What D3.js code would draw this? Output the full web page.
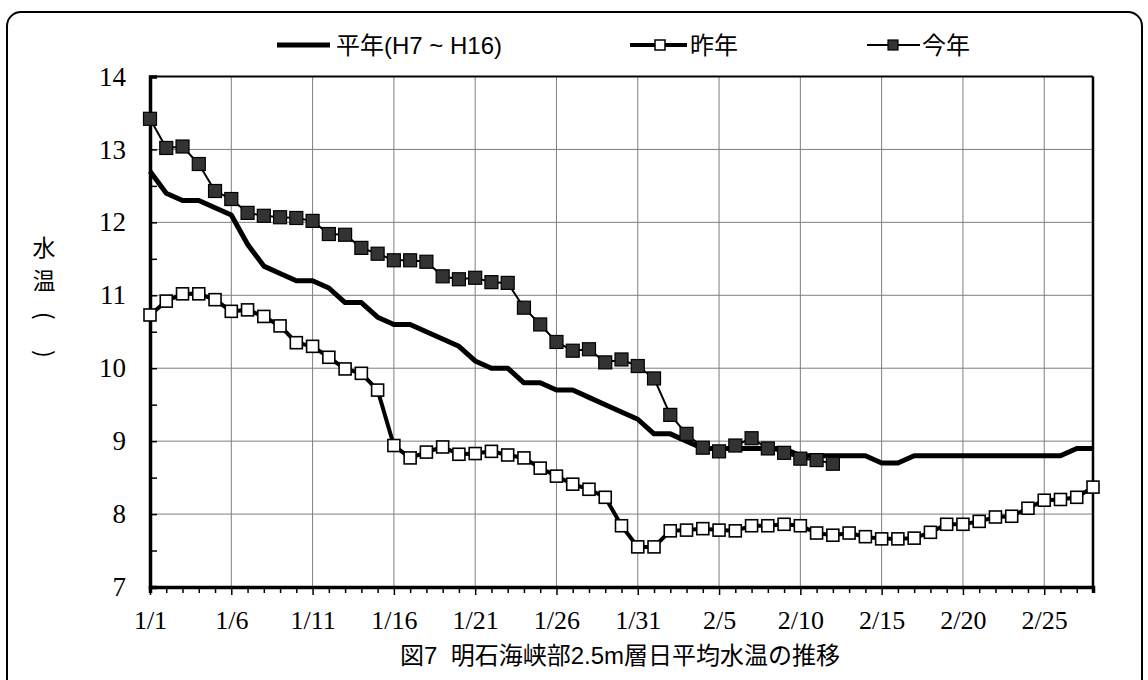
<!DOCTYPE html>
<html>
<head>
<meta charset="utf-8">
<script src="https://cdn.jsdelivr.net/npm/d3@7"></script>
<style>
  body { margin: 0; background: #fff; }
  svg { display: block; }
</style>
</head>
<body>
<svg id="chart" width="1148" height="680"></svg>
<script>
// day index 0 = 1/1 ... 58 = 2/28
const dayLabels = d3.range(59).map(i => i < 31 ? `1/${i + 1}` : `2/${i - 30}`);
const xTickDays = [0, 5, 10, 15, 20, 25, 30, 35, 40, 45, 50, 55];
const yTicks = [7, 8, 9, 10, 11, 12, 13, 14];

// 平年(H7 ~ H16)
const heinen = [12.7, 12.4, 12.3, 12.3, 12.2, 12.1, 11.7, 11.4, 11.3, 11.2,
  11.2, 11.1, 10.9, 10.9, 10.7, 10.6, 10.6, 10.5, 10.4, 10.3,
  10.1, 10.0, 10.0, 9.8, 9.8, 9.7, 9.7, 9.6, 9.5, 9.4,
  9.3, 9.1, 9.1, 9.0, 8.9, 8.9, 8.9, 8.9, 8.9, 8.9,
  8.8, 8.8, 8.8, 8.8, 8.8, 8.7, 8.7, 8.8, 8.8, 8.8,
  8.8, 8.8, 8.8, 8.8, 8.8, 8.8, 8.8, 8.9, 8.9];

// 昨年
const sakunen = [10.73, 10.92, 11.02, 11.02, 10.94, 10.78, 10.8, 10.71, 10.58, 10.35,
  10.3, 10.15, 9.99, 9.93, 9.7, 8.94, 8.77, 8.85, 8.92, 8.82,
  8.83, 8.86, 8.81, 8.77, 8.63, 8.52, 8.41, 8.34, 8.23, 7.84,
  7.55, 7.55, 7.77, 7.78, 7.8, 7.78, 7.77, 7.84, 7.84, 7.86,
  7.84, 7.74, 7.71, 7.74, 7.69, 7.66, 7.66, 7.67, 7.75, 7.86,
  7.86, 7.9, 7.96, 7.97, 8.08, 8.19, 8.2, 8.23, 8.37];

// 今年 (up to 2/12)
const konnen = [13.42, 13.02, 13.04, 12.8, 12.43, 12.32, 12.13, 12.09, 12.07, 12.06,
  12.02, 11.84, 11.83, 11.65, 11.57, 11.48, 11.48, 11.46, 11.26, 11.22,
  11.24, 11.18, 11.17, 10.83, 10.6, 10.36, 10.24, 10.26, 10.08, 10.12,
  10.03, 9.86, 9.36, 9.1, 8.91, 8.86, 8.94, 9.04, 8.9, 8.84,
  8.76, 8.74, 8.69];

const svg = d3.select('#chart');
const serif = '"Liberation Serif", "Times New Roman", serif';
const sans = '"Liberation Sans", Arial, "Noto Sans CJK JP", sans-serif';
const cjk = '"Noto Sans CJK JP", "Liberation Sans", sans-serif';

const plotL = 150, plotR = 1093, plotT = 76.5, plotB = 587;
const x = d3.scaleLinear().domain([0, 58]).range([plotL, plotR]);
const y = d3.scaleLinear().domain([7, 14]).range([plotB, plotT]);

// outer rounded frame (bottom runs off the picture)
svg.append('rect')
  .attr('x', 7).attr('y', 12)
  .attr('width', 1135).attr('height', 700)
  .attr('rx', 14)
  .attr('fill', 'none').attr('stroke', '#000').attr('stroke-width', 2);

// grid
svg.append('g').selectAll('line').data(yTicks.slice(1, -1)).join('line')
  .attr('x1', plotL).attr('x2', plotR)
  .attr('y1', d => y(d)).attr('y2', d => y(d))
  .attr('stroke', '#7f7f7f').attr('stroke-width', 1);
svg.append('g').selectAll('line').data(xTickDays.slice(1)).join('line')
  .attr('x1', d => x(d)).attr('x2', d => x(d))
  .attr('y1', plotT).attr('y2', plotB)
  .attr('stroke', '#7f7f7f').attr('stroke-width', 1);

// plot border: top/right
svg.append('line').attr('x1', plotL).attr('x2', plotR).attr('y1', plotT).attr('y2', plotT)
  .attr('stroke', '#000').attr('stroke-width', 2);
svg.append('line').attr('x1', plotR).attr('x2', plotR).attr('y1', plotT).attr('y2', plotB)
  .attr('stroke', '#000').attr('stroke-width', 2.5);

// y axis, ticks pointing inward, minor every 0.5
const yAxis = d3.axisLeft(y).tickValues(d3.range(7, 14.01, 0.5))
  .tickSize(-7).tickFormat(d => Number.isInteger(d) ? d : '');
const gy = svg.append('g').attr('transform', `translate(${plotL},0)`).call(yAxis);
gy.select('.domain').attr('stroke-width', 3.5);
gy.selectAll('.tick line').attr('stroke-width', 1.5);
gy.selectAll('.tick text')
  .attr('x', -24)
  .style('font-family', serif).style('font-size', '27px').attr('fill', '#000');

// x axis, a tick every day
const xAxis = d3.axisBottom(x).tickValues(d3.range(59))
  .tickSize(6).tickFormat(d => xTickDays.includes(d) ? dayLabels[d] : '');
const gx = svg.append('g').attr('transform', `translate(0,${plotB})`).call(xAxis);
gx.select('.domain').attr('stroke-width', 3.5);
gx.selectAll('.tick line').attr('stroke-width', 1.5)
  .attr('y2', d => xTickDays.includes(d) ? 8 : 6);
gx.selectAll('.tick text')
  .attr('y', 24)
  .style('font-family', serif).style('font-size', '26px').attr('fill', '#000');

// series
const line = d3.line().x((d, i) => x(i)).y(d => y(d));

svg.append('path').datum(heinen).attr('d', line)
  .attr('fill', 'none').attr('stroke', '#000').attr('stroke-width', 5)
  .attr('stroke-linejoin', 'round');

svg.append('path').datum(sakunen).attr('d', line)
  .attr('fill', 'none').attr('stroke', '#000').attr('stroke-width', 4);
svg.append('g').selectAll('rect').data(sakunen).join('rect')
  .attr('x', (d, i) => x(i) - 6).attr('y', d => y(d) - 6)
  .attr('width', 12).attr('height', 12)
  .attr('fill', '#fff').attr('stroke', '#000').attr('stroke-width', 1.6);

svg.append('path').datum(konnen).attr('d', line)
  .attr('fill', 'none').attr('stroke', '#000').attr('stroke-width', 2);
svg.append('g').selectAll('rect').data(konnen).join('rect')
  .attr('x', (d, i) => x(i) - 6.5).attr('y', d => y(d) - 6.5)
  .attr('width', 13).attr('height', 13)
  .attr('fill', '#333').attr('stroke', '#000').attr('stroke-width', 1.2);

// legend
const legend = svg.append('g').style('font-family', sans).style('font-size', '24px');
legend.append('line').attr('x1', 277).attr('x2', 330).attr('y1', 45).attr('y2', 45)
  .attr('stroke', '#000').attr('stroke-width', 5);
legend.append('text').attr('x', 336).attr('y', 54).text('平年(H7 ~ H16)');

legend.append('line').attr('x1', 630).attr('x2', 687).attr('y1', 45).attr('y2', 45)
  .attr('stroke', '#000').attr('stroke-width', 4);
legend.append('rect').attr('x', 655).attr('y', 40).attr('width', 10).attr('height', 10)
  .attr('fill', '#fff').attr('stroke', '#000').attr('stroke-width', 1.5);
legend.append('text').attr('x', 690).attr('y', 54).text('昨年');

legend.append('line').attr('x1', 867).attr('x2', 920).attr('y1', 45).attr('y2', 45)
  .attr('stroke', '#000').attr('stroke-width', 2);
legend.append('rect').attr('x', 888).attr('y', 40).attr('width', 10).attr('height', 10)
  .attr('fill', '#333').attr('stroke', '#000').attr('stroke-width', 1.2);
legend.append('text').attr('x', 922).attr('y', 54).text('今年');

// y axis title, vertical: 水温（℃）
const yTitle = svg.append('g').style('font-family', cjk).style('font-size', '23px')
  .attr('text-anchor', 'middle');
yTitle.append('text').attr('x', 44).attr('y', 256).text('水');
yTitle.append('text').attr('x', 44).attr('y', 289).text('温');
yTitle.append('text').attr('transform', 'translate(44,316) rotate(90)')
  .attr('dy', '0.35em').text('(');
yTitle.append('text').attr('transform', 'translate(44,354) rotate(90)')
  .attr('dy', '0.35em').text(')');

// caption
svg.append('text').attr('x', 620).attr('y', 664).attr('text-anchor', 'middle')
  .style('font-family', sans).style('font-size', '24px').style('white-space', 'pre')
  .text('図7  明石海峡部2.5m層日平均水温の推移');
</script>
</body>
</html>
